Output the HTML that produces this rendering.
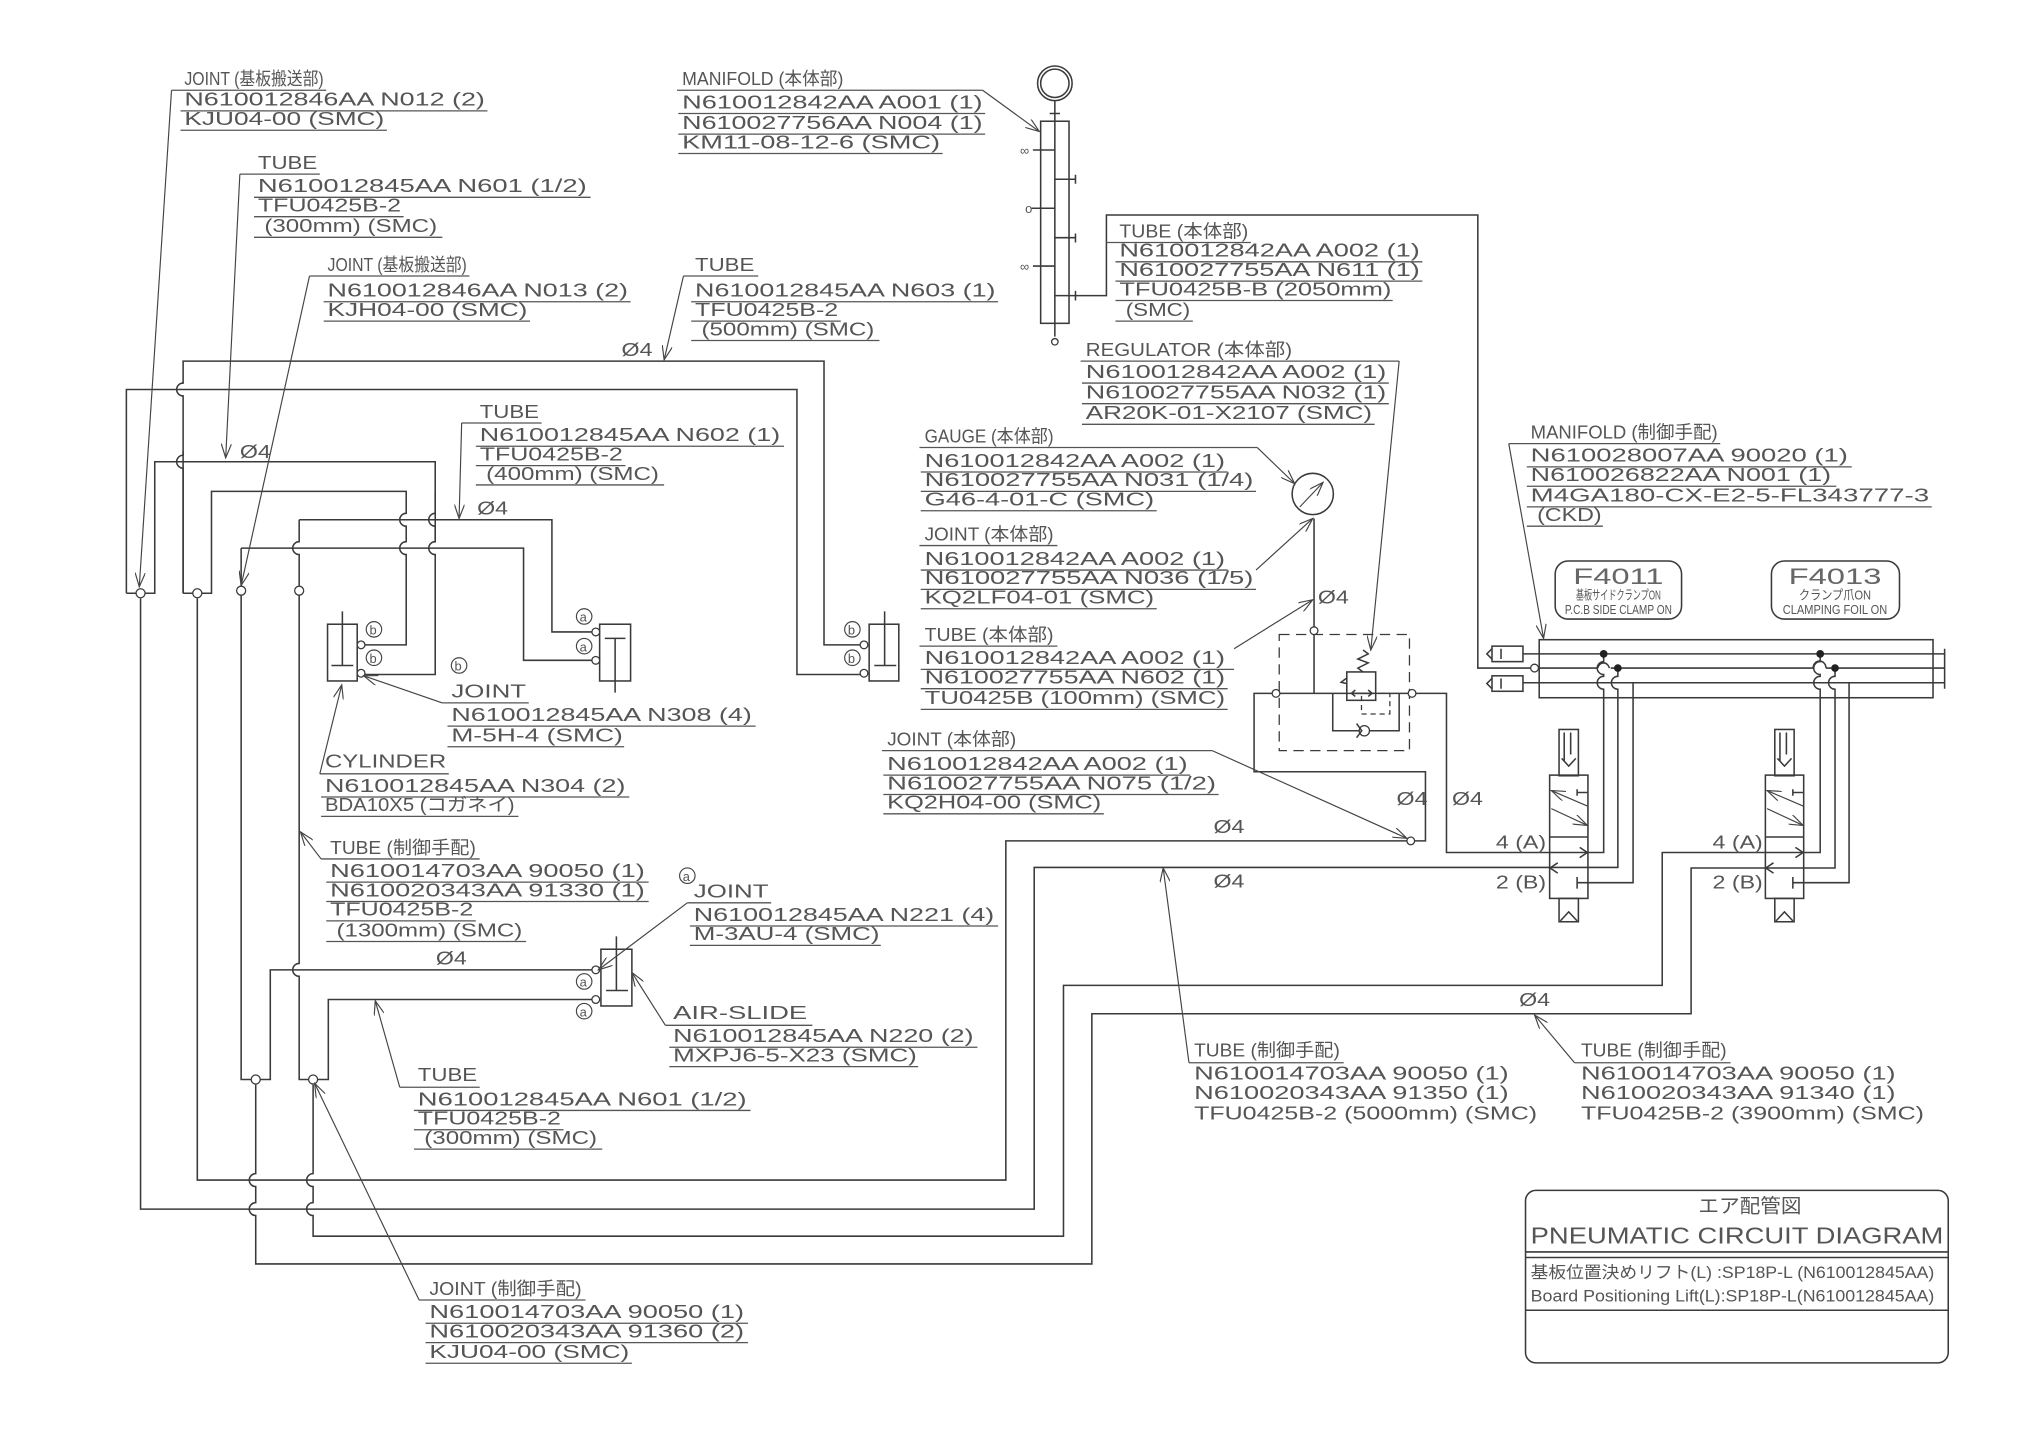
<!DOCTYPE html>
<html><head><meta charset="utf-8">
<style>
html,body{margin:0;padding:0;background:#fff;}
svg{display:block;}
text{font-family:"Liberation Sans","Noto Sans CJK JP",sans-serif;fill:#555;font-size:14px;}
.s{font-size:10px;}
.p{fill:none;stroke:#3a3a3a;stroke-width:1.2;}
.l{fill:none;stroke:#444;stroke-width:0.9;}
.u{stroke:#555;stroke-width:1;}
.c{fill:#fff;stroke:#3a3a3a;stroke-width:1;}
</style></head>
<body>
<svg width="2022" height="1429" viewBox="0 0 1568 1108" preserveAspectRatio="none" xmlns="http://www.w3.org/2000/svg">
<defs>
<marker id="a" markerUnits="userSpaceOnUse" markerWidth="12" markerHeight="8" refX="11" refY="4" orient="auto"><path d="M0,0 L11,4 L0,8" fill="none" stroke="#444" stroke-width="0.9"/></marker>
</defs>
<rect width="1568" height="1108" fill="#fff"/>

<!-- ===== left pipes ===== -->
<path class="p" d="M98 460 V302 H618 V523 H670"/>
<path class="p" d="M98 460 H120 V358 H337.5 V420 A5 5 0 0 0 337.5 430 V523 H281"/>
<path class="p" d="M142 460 V307 A5 5 0 0 1 142 297 V280 H639 V500 H670"/>
<path class="p" d="M142 460 V363 A5 5 0 0 1 142 353 V350"/>
<path class="p" d="M142 460 H164 V381 H315 V398 A5 5 0 0 0 315 408 V420 A5 5 0 0 0 315 430 V500 H281"/>
<path class="p" d="M337.5 381 V398 A5 5 0 0 0 337.5 408 V420"/>
<path class="p" d="M187 425 H406 V512 H462"/>
<path class="p" d="M187 425 V837 H209.6 V752 H462"/>
<path class="p" d="M232 403 H428 V490 H462"/>
<path class="p" d="M232 403 V420 A5 5 0 0 0 232 430 V747 A5 5 0 0 0 232 757 V837 H254.6 V775 H462"/>
<path class="p" d="M109 464 V937.5 H802 V672.6 H1254.6 V534.4 A5 5 0 0 1 1254.6 524.4 V518"/>
<path class="p" d="M153 464 V915 H780 V652 H1105.4 V598.4 H972.5 V537.6 H1121.7 V661 H1243.6 V534.4 A5 5 0 0 1 1243.6 524.4 V523 A5 5 0 0 1 1243.6 513 V507"/>
<path class="p" d="M198.3 841 V910 A5 5 0 0 0 198.3 920 V932.5 A5 5 0 0 0 198.3 942.5 V980 H846.7 V786 H1311.4 V673 H1423 V534.4 A5 5 0 0 1 1423 524.4 V518"/>
<path class="p" d="M242.8 841 V910 A5 5 0 0 0 242.8 920 V932.5 A5 5 0 0 0 242.8 942.5 V958.5 H824.7 V764 H1289 V661 H1411.5 V534.4 A5 5 0 0 1 1411.5 524.4 V523 A5 5 0 0 1 1411.5 513 V507"/>
<path class="p" d="M1266.4 529.4 V684.4 H1223 M1223 680 V689"/>
<path class="p" d="M1433.9 529.4 V684.4 H1390.3 M1390.3 680 V689"/>
<circle class="c" cx="109" cy="460" r="3.5"/>
<circle class="c" cx="153" cy="460" r="3.5"/>
<circle class="c" cx="187" cy="458" r="3.5"/>
<circle class="c" cx="232" cy="458" r="3.5"/>
<circle class="c" cx="198.3" cy="837" r="3.5"/>
<circle class="c" cx="242.8" cy="837" r="3.5"/>
<circle class="c" cx="1094" cy="652" r="3"/>

<rect class="p" x="254" y="484" width="23" height="44"/>
<path class="p" d="M265.5 474 V516 M257 516 H274"/>
<circle class="c" cx="280" cy="500" r="3"/><circle class="c" cx="280" cy="522" r="3"/>
<circle cx="290" cy="488" r="6" class="l"/><text x="286.5" y="492" class="s">b</text>
<circle cx="290" cy="510" r="6" class="l"/><text x="286.5" y="514" class="s">b</text>
<circle cx="356" cy="516" r="6" class="l"/><text x="352.5" y="520" class="s">b</text>
<rect class="p" x="465" y="484" width="24" height="44"/>
<path class="p" d="M477 495 V537 M469 495 H485"/>
<circle class="c" cx="462" cy="490" r="3"/><circle class="c" cx="462" cy="512" r="3"/>
<circle cx="453" cy="478" r="6" class="l"/><text x="449.5" y="482" class="s">a</text>
<circle cx="453" cy="501" r="6" class="l"/><text x="449.5" y="505" class="s">a</text>
<rect class="p" x="674" y="484" width="23" height="44"/>
<path class="p" d="M686 474 V516 M678 516 H695"/>
<circle class="c" cx="670" cy="500" r="3"/><circle class="c" cx="670" cy="522" r="3"/>
<circle cx="661" cy="488" r="6" class="l"/><text x="657.5" y="492" class="s">b</text>
<circle cx="661" cy="510" r="6" class="l"/><text x="657.5" y="514" class="s">b</text>
<rect class="p" x="466" y="736" width="24" height="44"/>
<path class="p" d="M478 726 V768 M470 768 H487"/>
<circle class="c" cx="462" cy="752" r="3"/><circle class="c" cx="462" cy="775" r="3"/>
<circle cx="453" cy="761" r="6" class="l"/><text x="449.5" y="765" class="s">a</text>
<circle cx="453" cy="784" r="6" class="l"/><text x="449.5" y="788" class="s">a</text>
<circle cx="533" cy="679" r="6" class="l"/><text x="529.5" y="683" class="s">a</text>

<circle class="p" cx="818" cy="64.6" r="13.4"/><circle class="p" cx="818" cy="64.6" r="11"/>
<path class="p" d="M818 78 V261 M814 88 H822"/>
<rect class="p" x="807" y="94" width="22" height="156.7"/>
<circle class="c" cx="818" cy="265" r="2.5"/>
<path class="p" d="M801 116.3 H818 M800 161.5 H818 M801 206.3 H818 M818 139 H834 M834 135.5 V142.5 M818 184.3 H834 M834 181 V188 M818 229.2 H858 V166.7 H1146 V518 H1187 M834 225.5 V233"/>
<text x="791" y="120" class="s">∞</text><text x="795" y="165" class="s">o</text><text x="791" y="210" class="s">∞</text>

<rect x="992" y="492" width="101" height="90" fill="none" stroke="#3a3a3a" stroke-width="1" stroke-dasharray="8 5"/>
<circle class="c" cx="989.5" cy="537.6" r="3"/><circle class="c" cx="1095" cy="537.6" r="3"/>
<path class="p" d="M1019 402 V537.6"/>
<circle class="c" cx="1019" cy="489" r="3"/>
<rect class="p" x="1044.4" y="521" width="22.4" height="22"/>
<path class="p" d="M1057 504 L1061 507 L1053 511 L1061 514 L1053 518 L1057 521"/>
<path class="p" d="M1044 526 L1040 529 L1044 530"/>
<path class="p" d="M1048 537.6 H1064 M1051 535 L1048 537.6 L1051 540 M1061 535 L1064 537.6 L1061 540"/>
<rect x="1055.8" y="537.6" width="22" height="16" fill="none" stroke="#3a3a3a" stroke-width="1" stroke-dasharray="4 3"/>
<path class="p" d="M1033.5 537.6 V566.6 H1085 V537.6"/>
<circle class="c" cx="1058" cy="566.6" r="4"/>
<path class="p" d="M1052 561 L1056 566.6 L1052 572"/>
<circle class="p" cx="1018" cy="383" r="16"/>
<path class="l" d="M1008 393 L1026 374" marker-end="url(#a)"/>

<rect class="p" x="1193.6" y="496" width="305.4" height="45"/>
<path class="p" d="M1180.6 507 H1508 M1180.6 529.4 H1508 M1508 503 V534"/>
<path class="p" d="M1190 518 H1239 M1249 518 H1406 M1416 518 H1508"/>
<path class="p" d="M1239 518 A4.6 5 0 0 1 1248 518"/>
<path class="p" d="M1406 518 A4.6 5 0 0 1 1416 518"/>
<circle class="c" cx="1190" cy="518" r="3"/>
<rect class="p" x="1157" y="501" width="24" height="12"/><rect class="p" x="1157" y="524" width="24" height="12"/>
<path class="p" d="M1157 503 L1153 507 L1157 511 M1157 526 L1153 530 L1157 534 M1164 503 V511 M1164 526 V534"/>
<circle cx="1243.6" cy="507" r="3" fill="#222"/><circle cx="1254.6" cy="518" r="3" fill="#222"/>
<circle cx="1411.5" cy="507" r="3" fill="#222"/><circle cx="1423" cy="518" r="3" fill="#222"/>
<rect class="p" x="1206" y="435" width="98" height="45" rx="10"/>
<rect class="p" x="1373.7" y="435" width="99.3" height="45" rx="10"/>
<text x="1255" y="453" text-anchor="middle" style="font-size:17px;fill:#666" textLength="70" lengthAdjust="spacingAndGlyphs">F4011</text>
<text x="1255" y="465" text-anchor="middle" class="s" textLength="66" lengthAdjust="spacingAndGlyphs">基板サイドクランプON</text>
<text x="1255" y="476" text-anchor="middle" class="s" textLength="83" lengthAdjust="spacingAndGlyphs">P.C.B SIDE CLAMP ON</text>
<text x="1423" y="453" text-anchor="middle" style="font-size:17px;fill:#666" textLength="72" lengthAdjust="spacingAndGlyphs">F4013</text>
<text x="1423" y="465" text-anchor="middle" class="s" textLength="56" lengthAdjust="spacingAndGlyphs">クランプ爪ON</text>
<text x="1423" y="476" text-anchor="middle" class="s" textLength="81" lengthAdjust="spacingAndGlyphs">CLAMPING FOIL ON</text>

<g id="v1">
<rect class="p" x="1201.7" y="601" width="29.7" height="95.6"/>
<rect class="p" x="1209" y="565.6" width="15" height="35.9"/>
<path class="p" d="M1213 568 V590 M1218 568 V585 M1211 588 L1216.5 594 L1222 588"/>
<rect class="p" x="1209" y="696.6" width="15" height="18.1"/>
<path class="p" d="M1210 714 L1216.5 707 L1223 714"/>
<path class="p" d="M1201.7 649 H1231.4 M1223 612 V617 M1223 614.5 H1231.4"/>
<path class="l" d="M1231 625 L1203 613" marker-end="url(#a)"/>
<path class="l" d="M1203 627 L1231 640" marker-end="url(#a)"/>
<path class="p" d="M1225 657 L1231 661 L1225 665 M1208 669 L1202 673 L1208 677"/>
</g>
<use href="#v1" x="167.3"/>
<text x="1160" y="658" textLength="39" lengthAdjust="spacingAndGlyphs">4 (A)</text>
<text x="1160" y="689" textLength="39" lengthAdjust="spacingAndGlyphs">2 (B)</text>
<text x="1328" y="658" textLength="39" lengthAdjust="spacingAndGlyphs">4 (A)</text>
<text x="1328" y="689" textLength="39" lengthAdjust="spacingAndGlyphs">2 (B)</text>

<g>
<text x="482" y="276" textLength="24" lengthAdjust="spacingAndGlyphs">Ø4</text>
<text x="186" y="355" textLength="24" lengthAdjust="spacingAndGlyphs">Ø4</text>
<text x="370" y="399" textLength="24" lengthAdjust="spacingAndGlyphs">Ø4</text>
<text x="1022" y="468" textLength="24" lengthAdjust="spacingAndGlyphs">Ø4</text>
<text x="1083" y="624" textLength="24" lengthAdjust="spacingAndGlyphs">Ø4</text>
<text x="1126" y="624" textLength="24" lengthAdjust="spacingAndGlyphs">Ø4</text>
<text x="941" y="646" textLength="24" lengthAdjust="spacingAndGlyphs">Ø4</text>
<text x="941" y="688" textLength="24" lengthAdjust="spacingAndGlyphs">Ø4</text>
<text x="1178" y="780" textLength="24" lengthAdjust="spacingAndGlyphs">Ø4</text>
<text x="338" y="748" textLength="24" lengthAdjust="spacingAndGlyphs">Ø4</text>
</g>

<g>
<text x="143" y="66" textLength="108" lengthAdjust="spacingAndGlyphs">JOINT (基板搬送部)</text>
<path class="u" d="M133 70 H253 M140 86 H378 M140 101 H300"/>
<text x="143" y="82" textLength="233" lengthAdjust="spacingAndGlyphs">N610012846AA N012 (2)</text>
<text x="143" y="97" textLength="155" lengthAdjust="spacingAndGlyphs">KJU04-00 (SMC)</text>
<path class="l" d="M133 70 L108 455" marker-end="url(#a)"/>
<text x="200" y="131" textLength="46" lengthAdjust="spacingAndGlyphs">TUBE</text>
<path class="u" d="M186 135 H248 M197 153 H458 M197 168 H313 M197 184 H343"/>
<text x="200" y="149" textLength="255" lengthAdjust="spacingAndGlyphs">N610012845AA N601 (1/2)</text>
<text x="200" y="164" textLength="111" lengthAdjust="spacingAndGlyphs">TFU0425B-2</text>
<text x="205" y="180" textLength="134" lengthAdjust="spacingAndGlyphs">(300mm) (SMC)</text>
<path class="l" d="M186 135 L175 355" marker-end="url(#a)"/>
<text x="254" y="210" textLength="108" lengthAdjust="spacingAndGlyphs">JOINT (基板搬送部)</text>
<path class="u" d="M240 214 H364 M251 234 H489 M251 249 H411"/>
<text x="254" y="230" textLength="233" lengthAdjust="spacingAndGlyphs">N610012846AA N013 (2)</text>
<text x="254" y="245" textLength="155" lengthAdjust="spacingAndGlyphs">KJH04-00 (SMC)</text>
<path class="l" d="M240 214 L187 454" marker-end="url(#a)"/>
<text x="539" y="210" textLength="46" lengthAdjust="spacingAndGlyphs">TUBE</text>
<path class="u" d="M530 214 H588 M536 234 H774 M536 249 H652 M536 264 H682"/>
<text x="539" y="230" textLength="233" lengthAdjust="spacingAndGlyphs">N610012845AA N603 (1)</text>
<text x="539" y="245" textLength="111" lengthAdjust="spacingAndGlyphs">TFU0425B-2</text>
<text x="544" y="260" textLength="134" lengthAdjust="spacingAndGlyphs">(500mm) (SMC)</text>
<path class="l" d="M530 214 L515 279" marker-end="url(#a)"/>
<text x="372" y="324" textLength="46" lengthAdjust="spacingAndGlyphs">TUBE</text>
<path class="u" d="M358 328 H420 M369 346 H608 M369 361 H485 M369 376 H515"/>
<text x="372" y="342" textLength="233" lengthAdjust="spacingAndGlyphs">N610012845AA N602 (1)</text>
<text x="372" y="357" textLength="111" lengthAdjust="spacingAndGlyphs">TFU0425B-2</text>
<text x="377" y="372" textLength="134" lengthAdjust="spacingAndGlyphs">(400mm) (SMC)</text>
<path class="l" d="M358 328 L356 402" marker-end="url(#a)"/>
<text x="350" y="541" textLength="58" lengthAdjust="spacingAndGlyphs">JOINT</text>
<path class="u" d="M343 545 H410 M347 563 H586 M347 579 H484"/>
<text x="350" y="559" textLength="233" lengthAdjust="spacingAndGlyphs">N610012845AA N308 (4)</text>
<text x="350" y="575" textLength="133" lengthAdjust="spacingAndGlyphs">M-5H-4 (SMC)</text>
<path class="l" d="M343 545 L282 524" marker-end="url(#a)"/>
<text x="252" y="595" textLength="94" lengthAdjust="spacingAndGlyphs">CYLINDER</text>
<path class="u" d="M248 600 H348 M249 618 H488 M249 633 H402"/>
<text x="252" y="614" textLength="233" lengthAdjust="spacingAndGlyphs">N610012845AA N304 (2)</text>
<text x="252" y="629" textLength="147" lengthAdjust="spacingAndGlyphs">BDA10X5 (コガネイ)</text>
<path class="l" d="M248 600 L265 531" marker-end="url(#a)"/>
<text x="256" y="662" textLength="113" lengthAdjust="spacingAndGlyphs">TUBE (制御手配)</text>
<path class="u" d="M249 666 H372 M253 684 H503 M253 699 H503 M253 714 H369 M253 730 H408"/>
<text x="256" y="680" textLength="244" lengthAdjust="spacingAndGlyphs">N610014703AA 90050 (1)</text>
<text x="256" y="695" textLength="244" lengthAdjust="spacingAndGlyphs">N610020343AA 91330 (1)</text>
<text x="256" y="710" textLength="111" lengthAdjust="spacingAndGlyphs">TFU0425B-2</text>
<text x="261" y="726" textLength="144" lengthAdjust="spacingAndGlyphs">(1300mm) (SMC)</text>
<path class="l" d="M249 666 L233 645" marker-end="url(#a)"/>
<text x="538" y="696" textLength="58" lengthAdjust="spacingAndGlyphs">JOINT</text>
<path class="u" d="M533 700 H598 M535 718 H774 M535 733 H683"/>
<text x="538" y="714" textLength="233" lengthAdjust="spacingAndGlyphs">N610012845AA N221 (4)</text>
<text x="538" y="729" textLength="144" lengthAdjust="spacingAndGlyphs">M-3AU-4 (SMC)</text>
<path class="l" d="M533 700 L464 752" marker-end="url(#a)"/>
<text x="522" y="790" textLength="104" lengthAdjust="spacingAndGlyphs">AIR-SLIDE</text>
<path class="u" d="M516 795 H630 M519 812 H758 M519 827 H712"/>
<text x="522" y="808" textLength="233" lengthAdjust="spacingAndGlyphs">N610012845AA N220 (2)</text>
<text x="522" y="823" textLength="189" lengthAdjust="spacingAndGlyphs">MXPJ6-5-X23 (SMC)</text>
<path class="l" d="M516 795 L490 754" marker-end="url(#a)"/>
<text x="324" y="838" textLength="46" lengthAdjust="spacingAndGlyphs">TUBE</text>
<path class="u" d="M310 843 H372 M321 861 H582 M321 876 H437 M321 891 H467"/>
<text x="324" y="857" textLength="255" lengthAdjust="spacingAndGlyphs">N610012845AA N601 (1/2)</text>
<text x="324" y="872" textLength="111" lengthAdjust="spacingAndGlyphs">TFU0425B-2</text>
<text x="329" y="887" textLength="134" lengthAdjust="spacingAndGlyphs">(300mm) (SMC)</text>
<path class="l" d="M310 843 L291 776" marker-end="url(#a)"/>
<text x="333" y="1004" textLength="118" lengthAdjust="spacingAndGlyphs">JOINT (制御手配)</text>
<path class="u" d="M325 1008 H454 M330 1026 H580 M330 1041 H580 M330 1057 H490"/>
<text x="333" y="1022" textLength="244" lengthAdjust="spacingAndGlyphs">N610014703AA 90050 (1)</text>
<text x="333" y="1037" textLength="244" lengthAdjust="spacingAndGlyphs">N610020343AA 91360 (2)</text>
<text x="333" y="1053" textLength="155" lengthAdjust="spacingAndGlyphs">KJU04-00 (SMC)</text>
<path class="l" d="M325 1008 L244 840" marker-end="url(#a)"/>
<text x="529" y="66" textLength="125" lengthAdjust="spacingAndGlyphs">MANIFOLD (本体部)</text>
<path class="u" d="M525 70 H762 M526 88 H764 M526 104 H764 M526 119 H731"/>
<text x="529" y="84" textLength="233" lengthAdjust="spacingAndGlyphs">N610012842AA A001 (1)</text>
<text x="529" y="100" textLength="233" lengthAdjust="spacingAndGlyphs">N610027756AA N004 (1)</text>
<text x="529" y="115" textLength="200" lengthAdjust="spacingAndGlyphs">KM11-08-12-6 (SMC)</text>
<path class="l" d="M762 70 L806 102" marker-end="url(#a)"/>
<text x="868" y="184" textLength="100" lengthAdjust="spacingAndGlyphs">TUBE (本体部)</text>
<path class="u" d="M858 188 H970 M865 203 H1103 M865 218 H1103 M865 233 H1080 M865 249 H925"/>
<text x="868" y="199" textLength="233" lengthAdjust="spacingAndGlyphs">N610012842AA A002 (1)</text>
<text x="868" y="214" textLength="233" lengthAdjust="spacingAndGlyphs">N610027755AA N611 (1)</text>
<text x="868" y="229" textLength="211" lengthAdjust="spacingAndGlyphs">TFU0425B-B (2050mm)</text>
<text x="873" y="245" textLength="50" lengthAdjust="spacingAndGlyphs">(SMC)</text>
<text x="842" y="276" textLength="160" lengthAdjust="spacingAndGlyphs">REGULATOR (本体部)</text>
<path class="u" d="M838 280 H1085 M839 297 H1077 M839 313 H1077 M839 329 H1066"/>
<text x="842" y="293" textLength="233" lengthAdjust="spacingAndGlyphs">N610012842AA A002 (1)</text>
<text x="842" y="309" textLength="233" lengthAdjust="spacingAndGlyphs">N610027755AA N032 (1)</text>
<text x="842" y="325" textLength="222" lengthAdjust="spacingAndGlyphs">AR20K-01-X2107 (SMC)</text>
<path class="l" d="M1085 280 L1063 504" marker-end="url(#a)"/>
<text x="717" y="343" textLength="100" lengthAdjust="spacingAndGlyphs">GAUGE (本体部)</text>
<path class="u" d="M713 347 H975 M714 366 H952 M714 381 H974 M714 396 H897"/>
<text x="717" y="362" textLength="233" lengthAdjust="spacingAndGlyphs">N610012842AA A002 (1)</text>
<text x="717" y="377" textLength="255" lengthAdjust="spacingAndGlyphs">N610027755AA N031 (1/4)</text>
<text x="717" y="392" textLength="178" lengthAdjust="spacingAndGlyphs">G46-4-01-C (SMC)</text>
<path class="l" d="M975 347 L1004 375" marker-end="url(#a)"/>
<text x="717" y="419" textLength="100" lengthAdjust="spacingAndGlyphs">JOINT (本体部)</text>
<path class="u" d="M713 423 H820 M714 442 H952 M714 457 H974 M714 472 H897"/>
<text x="717" y="438" textLength="233" lengthAdjust="spacingAndGlyphs">N610012842AA A002 (1)</text>
<text x="717" y="453" textLength="255" lengthAdjust="spacingAndGlyphs">N610027755AA N036 (1/5)</text>
<text x="717" y="468" textLength="178" lengthAdjust="spacingAndGlyphs">KQ2LF04-01 (SMC)</text>
<path class="l" d="M974 442 L1018 402" marker-end="url(#a)"/>
<text x="717" y="497" textLength="100" lengthAdjust="spacingAndGlyphs">TUBE (本体部)</text>
<path class="u" d="M713 501 H820 M714 519 H957 M714 534 H952 M714 550 H952"/>
<text x="717" y="515" textLength="233" lengthAdjust="spacingAndGlyphs">N610012842AA A002 (1)</text>
<text x="717" y="530" textLength="233" lengthAdjust="spacingAndGlyphs">N610027755AA N602 (1)</text>
<text x="717" y="546" textLength="233" lengthAdjust="spacingAndGlyphs">TU0425B (100mm) (SMC)</text>
<path class="l" d="M957 503 L1018 465" marker-end="url(#a)"/>
<text x="688" y="578" textLength="100" lengthAdjust="spacingAndGlyphs">JOINT (本体部)</text>
<path class="u" d="M684 582 H940 M685 601 H923 M685 616 H945 M685 631 H856"/>
<text x="688" y="597" textLength="233" lengthAdjust="spacingAndGlyphs">N610012842AA A002 (1)</text>
<text x="688" y="612" textLength="255" lengthAdjust="spacingAndGlyphs">N610027755AA N075 (1/2)</text>
<text x="688" y="627" textLength="166" lengthAdjust="spacingAndGlyphs">KQ2H04-00 (SMC)</text>
<path class="l" d="M940 582 L1091 650" marker-end="url(#a)"/>
<text x="1187" y="340" textLength="145" lengthAdjust="spacingAndGlyphs">MANIFOLD (制御手配)</text>
<path class="u" d="M1170 344 H1334 M1184 362 H1436 M1184 377 H1424 M1184 393 H1498 M1184 408 H1243"/>
<text x="1187" y="358" textLength="246" lengthAdjust="spacingAndGlyphs">N610028007AA 90020 (1)</text>
<text x="1187" y="373" textLength="233" lengthAdjust="spacingAndGlyphs">N610026822AA N001 (1)</text>
<text x="1187" y="389" textLength="309" lengthAdjust="spacingAndGlyphs">M4GA180-CX-E2-5-FL343777-3</text>
<text x="1192" y="404" textLength="50" lengthAdjust="spacingAndGlyphs">(CKD)</text>
<path class="l" d="M1170 344 L1197 495" marker-end="url(#a)"/>
<text x="926" y="819" textLength="113" lengthAdjust="spacingAndGlyphs">TUBE (制御手配)</text>
<path class="u" d="M922 824 H1042"/>
<text x="926" y="837" textLength="244" lengthAdjust="spacingAndGlyphs">N610014703AA 90050 (1)</text>
<text x="926" y="852" textLength="244" lengthAdjust="spacingAndGlyphs">N610020343AA 91350 (1)</text>
<text x="926" y="868" textLength="266" lengthAdjust="spacingAndGlyphs">TFU0425B-2 (5000mm) (SMC)</text>
<path class="l" d="M922 824 L902 673" marker-end="url(#a)"/>
<text x="1226" y="819" textLength="113" lengthAdjust="spacingAndGlyphs">TUBE (制御手配)</text>
<path class="u" d="M1221 824 H1342"/>
<text x="1226" y="837" textLength="244" lengthAdjust="spacingAndGlyphs">N610014703AA 90050 (1)</text>
<text x="1226" y="852" textLength="244" lengthAdjust="spacingAndGlyphs">N610020343AA 91340 (1)</text>
<text x="1226" y="868" textLength="266" lengthAdjust="spacingAndGlyphs">TFU0425B-2 (3900mm) (SMC)</text>
<path class="l" d="M1221 824 L1190 787" marker-end="url(#a)"/>
</g>

<rect class="p" x="1183" y="923" width="327.8" height="133.7" rx="8"/>
<path class="p" d="M1183 970.7 H1510.8 M1183 975 H1510.8 M1183 1015.9 H1510.8"/>
<text x="1357" y="940" text-anchor="middle" style="font-size:15px" textLength="80" lengthAdjust="spacingAndGlyphs">エア配管図</text>
<text x="1187" y="964" style="font-size:18px" textLength="320" lengthAdjust="spacingAndGlyphs">PNEUMATIC CIRCUIT DIAGRAM</text>
<text x="1187" y="991" style="font-size:13px" textLength="313" lengthAdjust="spacingAndGlyphs">基板位置決めリフト(L) :SP18P-L (N610012845AA)</text>
<text x="1187" y="1009" style="font-size:13px" textLength="313" lengthAdjust="spacingAndGlyphs">Board Positioning Lift(L):SP18P-L(N610012845AA)</text>
</svg>
</body></html>
